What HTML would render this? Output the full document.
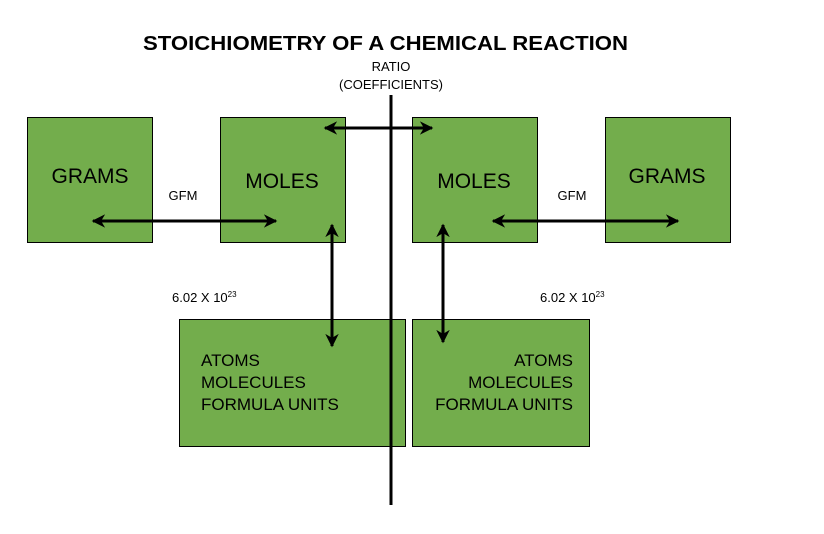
<!DOCTYPE html>
<html><head><meta charset="utf-8"><style>
body{margin:0;width:824px;height:529px;background:#fff;overflow:hidden;font-family:"Liberation Sans",sans-serif}
</style></head><body>
<svg width="824" height="529" viewBox="0 0 824 529">
<defs>
<marker id="ah" viewBox="0 0 10 10" refX="9" refY="5" markerWidth="4.5" markerHeight="4.5" orient="auto-start-reverse"><path d="M0,0 L10,5 L0,10 L3,5 z" fill="#000"/></marker>
</defs>
<text x="143" y="50" textLength="485" lengthAdjust="spacingAndGlyphs" font-size="20" font-weight="bold">STOICHIOMETRY OF A CHEMICAL REACTION</text>
<text x="391" y="71" text-anchor="middle" font-size="13">RATIO</text>
<text x="391" y="89" text-anchor="middle" font-size="13">(COEFFICIENTS)</text>
<g fill="#73ad4c" stroke="#000" stroke-width="1">
<rect x="27.5" y="117.5" width="125" height="125"/>
<rect x="220.5" y="117.5" width="125" height="125"/>
<rect x="412.5" y="117.5" width="125" height="125"/>
<rect x="605.5" y="117.5" width="125" height="125"/>
<rect x="179.5" y="319.5" width="226" height="127"/>
<rect x="412.5" y="319.5" width="177" height="127"/>
</g>
<line x1="391" y1="95" x2="391" y2="505" stroke="#000" stroke-width="3"/>
<g font-size="21" text-anchor="middle">
<text x="90" y="183">GRAMS</text>
<text x="282" y="188">MOLES</text>
<text x="474" y="188">MOLES</text>
<text x="667" y="183">GRAMS</text>
</g>
<g font-size="13">
<text x="183" y="200" text-anchor="middle">GFM</text>
<text x="572" y="200" text-anchor="middle">GFM</text>
<text x="172" y="302">6.02 X 10<tspan font-size="8" dy="-5">23</tspan></text>
<text x="540" y="302">6.02 X 10<tspan font-size="8" dy="-5">23</tspan></text>
</g>
<g font-size="17">
<text x="201" y="366">ATOMS</text>
<text x="201" y="388">MOLECULES</text>
<text x="201" y="410">FORMULA UNITS</text>
<text x="573" y="366" text-anchor="end">ATOMS</text>
<text x="573" y="388" text-anchor="end">MOLECULES</text>
<text x="573" y="410" text-anchor="end">FORMULA UNITS</text>
</g>
<g stroke="#000" stroke-width="3" marker-start="url(#ah)" marker-end="url(#ah)">
<line x1="325" y1="128" x2="432" y2="128"/>
<line x1="93" y1="221" x2="276" y2="221"/>
<line x1="493" y1="221" x2="678" y2="221"/>
<line x1="332" y1="225" x2="332" y2="346"/>
<line x1="443" y1="225" x2="443" y2="342"/>
</g>
</svg>
</body></html>
